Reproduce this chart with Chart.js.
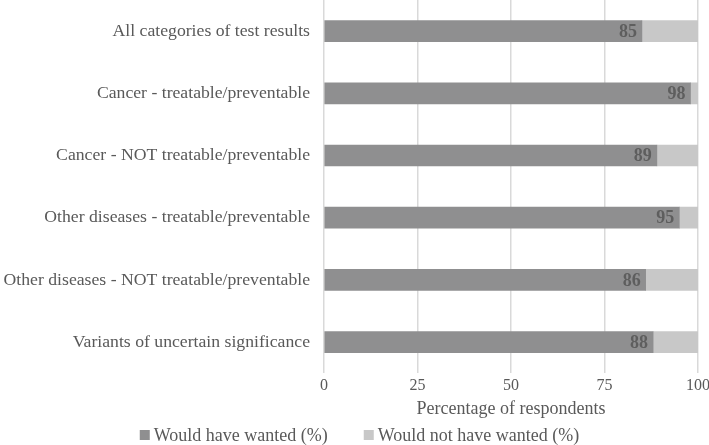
<!DOCTYPE html>
<html>
<head>
<meta charset="utf-8">
<script src="https://cdn.jsdelivr.net/npm/chart.js@4/dist/chart.umd.min.js"></script>
<style>
  html, body { margin: 0; padding: 0; background: #ffffff; }
  #wrap { width: 709px; height: 445px; position: relative; }
</style>
</head>
<body>
<div id="wrap"><canvas id="chart"></canvas></div>
<script>
// --- Data ---
const categories = [
    'All categories of test results',
    'Cancer - treatable/preventable',
    'Cancer - NOT treatable/preventable',
    'Other diseases - treatable/preventable',
    'Other diseases - NOT treatable/preventable',
    'Variants of uncertain significance'
];
const wanted = [85, 98, 89, 95, 86, 88];
const notWanted = [15, 2, 11, 5, 14, 12];
const xTicks = [0, 25, 50, 75, 100];

const textColor = '#595959';
const fontFamily = '"Liberation Serif", "Times New Roman", serif';

// value at the end of each dark bar
const barValueLabels = {
    id: 'barValueLabels',
    afterDatasetsDraw(chart) {
        const ctx = chart.ctx;
        const meta = chart.getDatasetMeta(0);
        ctx.save();
        ctx.font = 'bold 18px ' + fontFamily;
        ctx.fillStyle = '#5e5e5e';
        ctx.textAlign = 'right';
        ctx.textBaseline = 'middle';
        meta.data.forEach((bar, i) => {
            ctx.fillText(String(wanted[i]), bar.x - 5, bar.y + 1);
        });
        ctx.restore();
    }
};

// legend along the bottom, drawn by hand so the spacing matches
const bottomLegend = {
    id: 'bottomLegend',
    afterDraw(chart) {
        const ctx = chart.ctx;
        const sets = chart.data.datasets;
        const box = 10, gap = 4, between = 36;
        ctx.save();
        ctx.font = '18px ' + fontFamily;
        ctx.textBaseline = 'middle';
        const widths = sets.map(ds => box + gap + ctx.measureText(ds.label).width);
        const total = widths.reduce((a, b) => a + b, 0) + between * (sets.length - 1);
        let x = (chart.width - total) / 2 + 5;
        const y = chart.height - 10;
        sets.forEach((ds, i) => {
            ctx.fillStyle = ds.backgroundColor;
            ctx.fillRect(x, y - box / 2, box, box);
            ctx.fillStyle = textColor;
            ctx.fillText(ds.label, x + box + gap, y + 1);
            x += widths[i] + between;
        });
        ctx.restore();
    }
};

new Chart(document.getElementById('chart'), {
    type: 'bar',
    data: {
        labels: categories,
        datasets: [
            {
                label: 'Would have wanted (%)',
                data: wanted,
                backgroundColor: '#8f8f90',
                barThickness: 21
            },
            {
                label: 'Would not have wanted (%)',
                data: notWanted,
                backgroundColor: '#c8c8c8',
                barThickness: 21
            }
        ]
    },
    options: {
        indexAxis: 'y',
        responsive: true,
        maintainAspectRatio: false,
        animation: false,
        layout: { padding: { top: 0, right: 0, bottom: 25, left: 0 } },
        scales: {
            x: {
                stacked: true,
                min: 0,
                max: 100,
                afterBuildTicks: axis => { axis.ticks = xTicks.map(v => ({ value: v })); },
                grid: { color: '#d9d9d9', lineWidth: 1.5, drawTicks: false },
                border: { display: false },
                ticks: {
                    color: textColor,
                    font: { family: fontFamily, size: 16 },
                    padding: 3,
                    maxRotation: 0
                },
                title: {
                    display: true,
                    text: 'Percentage of respondents',
                    color: textColor,
                    font: { family: fontFamily, size: 18 },
                    padding: { top: 0, bottom: 0 }
                },
                afterFit: scale => {
                    scale.paddingLeft = 0;
                    scale.paddingRight = 11;
                }
            },
            y: {
                stacked: true,
                grid: { display: false, drawTicks: false },
                border: { display: false },
                ticks: {
                    color: textColor,
                    font: { family: fontFamily, size: 17.7 },
                    padding: 14
                },
                afterFit: scale => {
                    scale.width = 324;
                    scale.paddingTop = 0;
                    scale.paddingBottom = 0;
                }
            }
        },
        plugins: {
            legend: { display: false },
            tooltip: { enabled: false }
        }
    },
    plugins: [barValueLabels, bottomLegend]
});
</script>
</body>
</html>
